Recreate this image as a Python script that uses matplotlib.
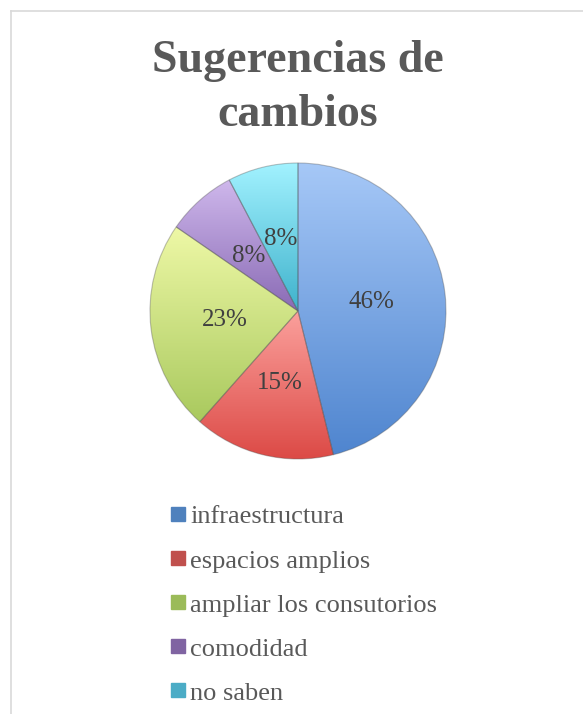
"""
Pie chart: Sugerencias de cambios.
"""

import matplotlib
matplotlib.use("Agg")
import matplotlib.pyplot as plt
import numpy as np
from matplotlib.colors import LinearSegmentedColormap
from matplotlib.lines import Line2D

categories = ["infraestructura", "espacios amplios", "ampliar los consutorios",
              "comodidad", "no saben"]
counts = [6, 2, 3, 1, 1]

# light (top) / dark (bottom) shade per slice, Office-2007 style
light = ["#a6c8f7", "#fba09c", "#eef8a6", "#cfb8ec", "#a2f2ff"]
dark = ["#4f85cf", "#dc4a46", "#a9c95e", "#8a6bb5", "#3fb2cc"]
base = ["#4f81bd", "#c0504d", "#9bbb59", "#8064a2", "#4bacc6"]

plt.rcParams["font.family"] = ["Liberation Serif", "DejaVu Serif"]

fig = plt.figure(figsize=(5.83, 7.14), dpi=100)
ax = fig.add_axes([150 / 583, 1 - 459 / 714, 296 / 583, 296 / 714])

wedges, _, autotexts = ax.pie(
    counts, startangle=90, counterclock=False, radius=1.0,
    autopct=lambda p: f"{p:.0f}%", pctdistance=0.5,
    wedgeprops=dict(edgecolor=(0.3, 0.3, 0.3, 0.35), linewidth=0.8),
    textprops=dict(fontsize=18, color="#404040"),
)

# vertical gradient clipped to each wedge
grad = np.linspace(1, 0, 256).reshape(-1, 1)
for w, lo, hi in zip(wedges, light, dark):
    w.set_facecolor("none")
    path = w.get_path().transformed(w.get_patch_transform())
    ext = path.get_extents()
    cmap = LinearSegmentedColormap.from_list("g", [hi, lo])
    im = ax.imshow(grad, cmap=cmap, aspect="auto", origin="lower",
                   extent=(ext.x0, ext.x1, ext.y1, ext.y0), zorder=0.5,
                   interpolation="bilinear")
    im.set_clip_path(w)
for t in autotexts:
    t.set_zorder(5)
ax.set_xlim(-1.0, 1.0)
ax.set_ylim(-1.0, 1.0)
ax.set_axis_off()

fig.text(298 / 583, 1 - 72 / 714, "Sugerencias de", ha="center", va="baseline",
         fontsize=33, fontweight="bold", color="#595959")
fig.text(298 / 583, 1 - 126 / 714, "cambios", ha="center", va="baseline",
         fontsize=33, fontweight="bold", color="#595959")

handles = [Line2D([], [], marker="s", linestyle="none", markersize=9.5,
                  markerfacecolor=c, markeredgecolor=c) for c in base]
fig.legend(handles, categories, loc="upper left",
           bbox_to_anchor=(172 / 583, 1 - 505 / 714), frameon=False,
           fontsize=19, labelcolor="#595959", handlelength=0.49,
           handletextpad=0.19, labelspacing=0.78, borderpad=0,
           borderaxespad=0)

# light frame on top and left edges
fig.add_artist(Line2D([10.5 / 583, 1], [1 - 10.5 / 714] * 2,
                      transform=fig.transFigure, color="#d9d9d9", lw=1.2))
fig.add_artist(Line2D([10.5 / 583] * 2, [0, 1 - 10.5 / 714],
                      transform=fig.transFigure, color="#d9d9d9", lw=1.2))

fig.savefig("out.png", dpi=100)
